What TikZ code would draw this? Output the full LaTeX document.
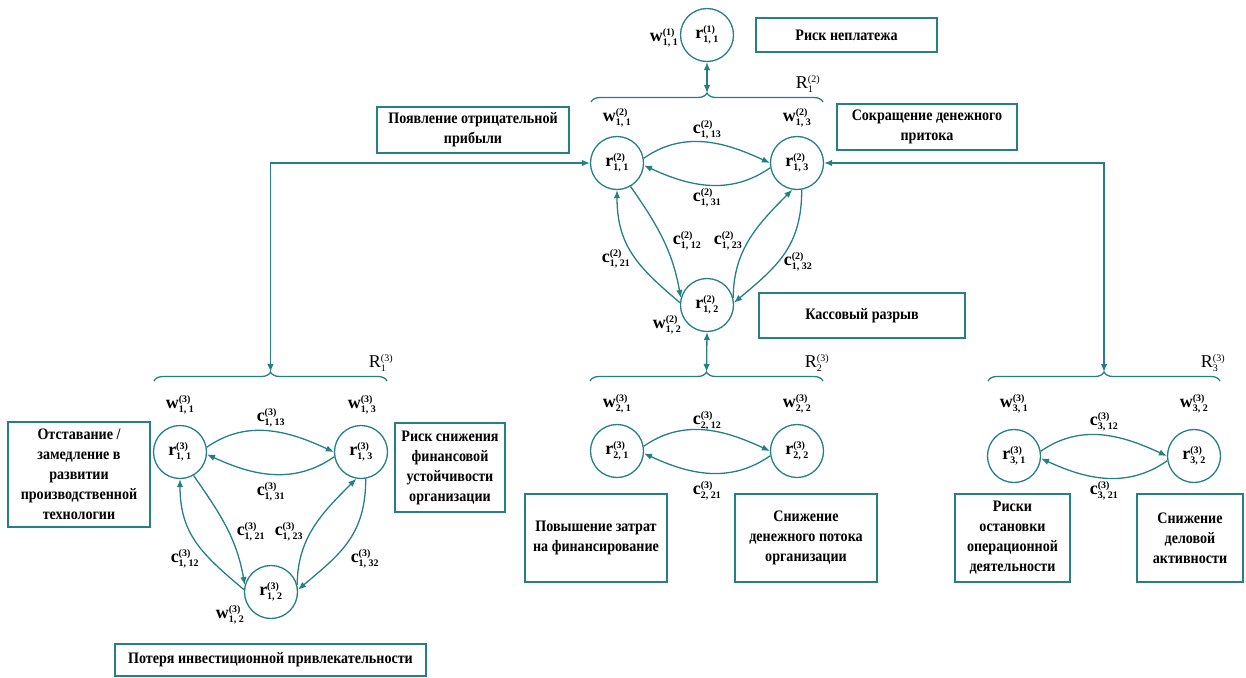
\documentclass[tikz,border=0pt]{standalone}
\usepackage{fontspec}
\setmainfont{Liberation Serif}
\newfontfamily\cf[FakeStretch=0.88]{Liberation Serif}
\usetikzlibrary{arrows.meta,decorations.pathreplacing}
\definecolor{tl}{RGB}{36,128,132}
\newcommand\lb[3]{#1$^{\hbox{\fontsize{10}{10}\selectfont #2}}_{\hbox{\fontsize{10}{10}\selectfont #3}}$}
\begin{document}
\begin{tikzpicture}[x=1pt,y=-1pt,
  conn/.style={tl, line width=1.3pt},
  tip/.style={-{Latex[length=8pt,width=6.5pt]}},
  dbl/.style={{Latex[length=8pt,width=6.5pt]}-{Latex[length=8pt,width=6.5pt]}},
  circ/.style={circle, draw=tl, line width=1.3pt, minimum size=53pt, inner sep=0pt, font=\bfseries\fontsize{18}{20}\selectfont},
  box/.style={draw=tl, line width=1.5pt, align=center, inner sep=0pt, font=\cf\bfseries\fontsize{16}{20}\selectfont},
  lab/.style={inner sep=0pt, font=\bfseries\fontsize{18}{20}\selectfont},
  rl/.style={inner sep=0pt, font=\fontsize{18}{20}\selectfont},
  br/.style={tl, line width=1.3pt, decorate, decoration={brace, amplitude=9pt}}]
\useasboundingbox (0,0) rectangle (1246,677);

% ---------- boxes ----------
\node[box, minimum width=181pt, minimum height=34pt] (bx1) at (846.5,35) {Риск неплатежа};
\node[box, minimum width=192pt, minimum height=46pt] (bx2) at (473,130) {Появление отрицательной\\прибыли};
\node[box, minimum width=180pt, minimum height=46pt] (bx3) at (927,127) {Сокращение денежного\\притока};
\node[box, minimum width=206pt, minimum height=45pt] (bx4) at (862,315.5) {Кассовый разрыв};
\node[box, minimum width=142pt, minimum height=105pt] (bx5) at (79,474.5) {Отставание /\\замедление в\\развитии\\производственной\\технологии};
\node[box, minimum width=110pt, minimum height=89pt] (bx6) at (450,467.5) {Риск снижения\\финансовой\\устойчивости\\организации};
\node[box, minimum width=311pt, minimum height=32pt] (bx7) at (270.5,660) {Потеря инвестиционной привлекательности};
\node[box, minimum width=142pt, minimum height=88pt] (bx8) at (596,538) {Повышение затрат\\на финансирование};
\node[box, minimum width=142pt, minimum height=88pt] (bx9) at (806,538) {Снижение\\денежного потока\\организации};
\node[box, minimum width=115pt, minimum height=88pt] (bx10) at (1012.5,538) {Риски\\остановки\\операционной\\деятельности};
\node[box, minimum width=106pt, minimum height=88pt] (bx11) at (1190,538) {Снижение\\деловой\\активности};

% ---------- circles ----------
\node[circ] (t1) at (707,35) {\lb{r}{(1)}{1, 1}};
\node[circ] (a11) at (617,163) {\lb{r}{(2)}{1, 1}};
\node[circ] (a13) at (797,163) {\lb{r}{(2)}{1, 3}};
\node[circ] (a12) at (707,305) {\lb{r}{(2)}{1, 2}};
\node[circ] (b11) at (180,452) {\lb{r}{(3)}{1, 1}};
\node[circ] (b13) at (361,452) {\lb{r}{(3)}{1, 3}};
\node[circ] (b12) at (271,592) {\lb{r}{(3)}{1, 2}};
\node[circ] (m1) at (617,451) {\lb{r}{(3)}{2, 1}};
\node[circ] (m2) at (797,451) {\lb{r}{(3)}{2, 2}};
\node[circ] (g1) at (1014,456) {\lb{r}{(3)}{3, 1}};
\node[circ] (g2) at (1194,456) {\lb{r}{(3)}{3, 2}};

% ---------- weight / link labels ----------
\node[lab] (wt1) at (664,38) {\lb{w}{(1)}{1, 1}};
\node[lab] (wa11) at (617,118) {\lb{w}{(2)}{1, 1}};
\node[lab] (wa13) at (797,118) {\lb{w}{(2)}{1, 3}};
\node[lab] (wa12) at (667,325) {\lb{w}{(2)}{1, 2}};
\node[lab] (ca13) at (707,130) {\lb{c}{(2)}{1, 13}};
\node[lab] (ca31) at (707,198) {\lb{c}{(2)}{1, 31}};
\node[lab] (ca12) at (687,241) {\lb{c}{(2)}{1, 12}};
\node[lab] (ca23) at (728,241) {\lb{c}{(2)}{1, 23}};
\node[lab] (ca21) at (616,259) {\lb{c}{(2)}{1, 21}};
\node[lab] (ca32) at (798,262) {\lb{c}{(2)}{1, 32}};

\node[lab] (wb11) at (180,405) {\lb{w}{(3)}{1, 1}};
\node[lab] (wb13) at (362,405) {\lb{w}{(3)}{1, 3}};
\node[lab] (wb12) at (230,615) {\lb{w}{(3)}{1, 2}};
\node[lab] (cb13) at (271,418) {\lb{c}{(3)}{1, 13}};
\node[lab] (cb31) at (271,492) {\lb{c}{(3)}{1, 31}};
\node[lab] (cb21) at (251,532) {\lb{c}{(3)}{1, 21}};
\node[lab] (cb23) at (289,532) {\lb{c}{(3)}{1, 23}};
\node[lab] (cb12) at (185,559) {\lb{c}{(3)}{1, 12}};
\node[lab] (cb32) at (365,559) {\lb{c}{(3)}{1, 32}};

\node[lab] (wm1) at (617,404) {\lb{w}{(3)}{2, 1}};
\node[lab] (wm2) at (797,404) {\lb{w}{(3)}{2, 2}};
\node[lab] (cm12) at (707,421) {\lb{c}{(3)}{2, 12}};
\node[lab] (cm21) at (707,491) {\lb{c}{(3)}{2, 21}};

\node[lab] (wg1) at (1014,404) {\lb{w}{(3)}{3, 1}};
\node[lab] (wg2) at (1194,404) {\lb{w}{(3)}{3, 2}};
\node[lab] (cg12) at (1104,422) {\lb{c}{(3)}{3, 12}};
\node[lab] (cg21) at (1104,491) {\lb{c}{(3)}{3, 21}};

\node[rl] (RA) at (808,84) {\lb{R}{(2)}{1}};
\node[rl] (RB) at (381,363) {\lb{R}{(3)}{1}};
\node[rl] (RM) at (817,363) {\lb{R}{(3)}{2}};
\node[rl] (RG) at (1213,363) {\lb{R}{(3)}{3}};

% ---------- braces ----------
\coordinate (tipA) at (707,93);
\coordinate (tipB) at (270.5,372);
\coordinate (tipM) at (706.5,372);
\coordinate (tipG) at (1104,372);
\draw[br] (591,102) -- (823,102);
\draw[br] (154,381) -- (387,381);
\draw[br] (590,381) -- (823,381);
\draw[br] (988,381) -- (1220,381);

% ---------- hierarchy connectors ----------
\draw[conn,dbl] (t1.south) -- (tipA);
\draw[conn,dbl] (a12.south) -- (tipM);
\draw[conn,dbl] (tipB) |- (a11.west);
\draw[conn,dbl] (tipG) |- (a13.east);

% ---------- level 2 links ----------
\draw[conn,tip] (a11.10) to[out=35,in=155] (a13.180);
\draw[conn,tip] (a13.190) to[out=-145,in=-25] (a11.355);
\draw[conn,tip] (a12.175) to[out=140,in=-90,looseness=1.1] (a11.-90);
\draw[conn,tip] (a11.-60) to[out=-55,in=100] (a12.165);
\draw[conn,tip] (a12.15) to[out=90,in=-135] (a13.-100);
\draw[conn,tip] (a13.-80) to[out=-90,in=40,looseness=1.1] (a12.5);

% ---------- group R1(3) links ----------
\draw[conn,tip] (b11.10) to[out=35,in=155] (b13.180);
\draw[conn,tip] (b13.190) to[out=-145,in=-25] (b11.355);
\draw[conn,tip] (b12.175) to[out=140,in=-90,looseness=1.1] (b11.-90);
\draw[conn,tip] (b11.-60) to[out=-55,in=100] (b12.165);
\draw[conn,tip] (b12.15) to[out=90,in=-135] (b13.-100);
\draw[conn,tip] (b13.-80) to[out=-90,in=40,looseness=1.1] (b12.5);

% ---------- group R2(3) links ----------
\draw[conn,tip] (m1.10) to[out=35,in=155] (m2.180);
\draw[conn,tip] (m2.190) to[out=-145,in=-25] (m1.355);

% ---------- group R3(3) links ----------
\draw[conn,tip] (g1.10) to[out=35,in=155] (g2.180);
\draw[conn,tip] (g2.190) to[out=-145,in=-25] (g1.355);
\end{tikzpicture}
\end{document}
